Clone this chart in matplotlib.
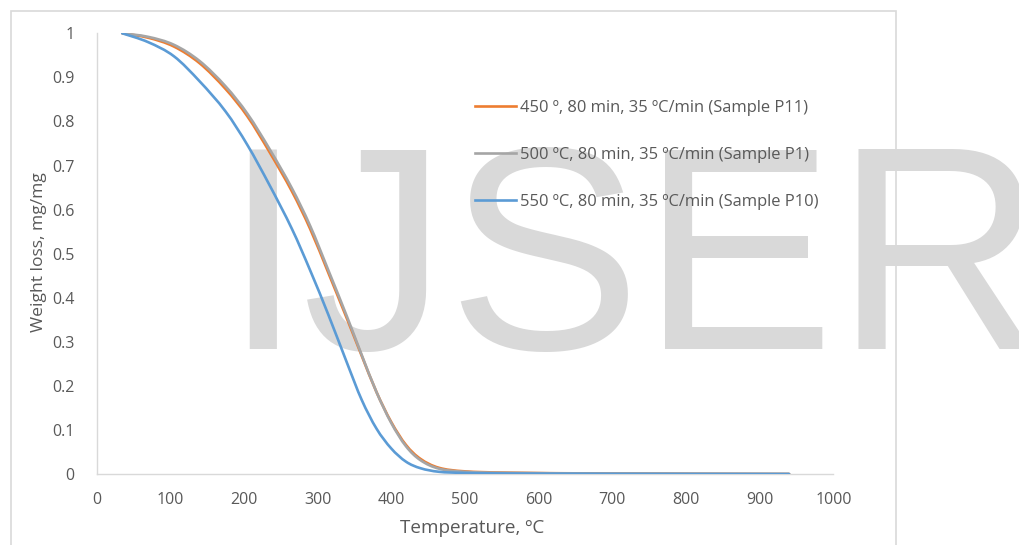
import matplotlib
matplotlib.use("Agg")
import matplotlib.pyplot as plt
from matplotlib.patches import Rectangle, PathPatch
from matplotlib.path import Path
from matplotlib.lines import Line2D

# ---- data ----
temp_blue = [35, 70, 105, 140, 175, 205, 235, 265, 290, 315, 340, 360, 380, 400,
             420, 440, 465, 500, 560, 700, 940]
w_blue = [1.0, 0.980, 0.948, 0.891, 0.823, 0.746, 0.655, 0.557, 0.462, 0.360,
          0.252, 0.168, 0.103, 0.058, 0.028, 0.013, 0.005, 0.0025, 0.0012, 0.0004, 0.0]

temp_og = [35, 70, 105, 140, 175, 205, 235, 265, 290, 315, 340, 360, 380, 400,
           420, 440, 465, 500, 560, 700, 940]
w_orange = [1.0, 0.990, 0.970, 0.932, 0.874, 0.811, 0.730, 0.642, 0.556, 0.455,
            0.352, 0.268, 0.186, 0.118, 0.066, 0.034, 0.014, 0.006, 0.003, 0.001, 0.0]
w_gray = [1.0, 0.992, 0.974, 0.937, 0.880, 0.817, 0.737, 0.649, 0.563, 0.461,
          0.357, 0.270, 0.186, 0.116, 0.063, 0.031, 0.012, 0.005, 0.0025, 0.001, 0.0]

labels = ["450 º, 80 min, 35 ºC/min (Sample P11)",
          "500 ºC, 80 min, 35 ºC/min (Sample P1)",
          "550 ºC, 80 min, 35 ºC/min (Sample P10)"]
colors = ["#ED7D31", "#A5A5A5", "#5B9BD5"]
xticks = [0, 100, 200, 300, 400, 500, 600, 700, 800, 900, 1000]
yticks = [0, 0.1, 0.2, 0.3, 0.4, 0.5, 0.6, 0.7, 0.8, 0.9, 1]
ytick_labels = ["0", "0.1", "0.2", "0.3", "0.4", "0.5", "0.6", "0.7", "0.8", "0.9", "1"]

FONT = "Open Sans"
TXT = "#595959"


def smooth_path(xs, ys):
    """Excel-style smoothed line: Catmull-Rom segments as cubic Beziers."""
    n = len(xs)
    verts = [(xs[0], ys[0])]
    codes = [Path.MOVETO]
    for i in range(n - 1):
        x0, y0 = (xs[i - 1], ys[i - 1]) if i > 0 else (xs[i], ys[i])
        x1, y1 = xs[i], ys[i]
        x2, y2 = xs[i + 1], ys[i + 1]
        x3, y3 = (xs[i + 2], ys[i + 2]) if i + 2 < n else (x2, y2)
        c1 = (x1 + (x2 - x0) / 6.0, y1 + (y2 - y0) / 6.0)
        c2 = (x2 - (x3 - x1) / 6.0, y2 - (y3 - y1) / 6.0)
        verts += [c1, c2, (x2, y2)]
        codes += [Path.CURVE4] * 3
    return Path(verts, codes)


W, H = 1019, 545
fig = plt.figure(figsize=(W / 100, H / 100), dpi=100)
fig.patch.set_facecolor("white")

# chart border
fig.patches.append(Rectangle((10.5 / W, -0.05), (896 - 10.5) / W, 1.05 - 10.5 / H,
                             transform=fig.transFigure, fill=False,
                             edgecolor="#D9D9D9", lw=1.2, zorder=0))

# watermark
fig.text(222 / W, 1 - 349 / H, "IJSER", fontsize=209, color="#D9D9D9",
         family="Liberation Sans", ha="left", va="baseline", zorder=0.5)

ax = fig.add_axes([96.5 / W, 1 - 474 / H, (833.3 - 96.5) / W, (474 - 33.3) / H])
ax.set_facecolor("none")
ax.set_zorder(2)

series = [(temp_og, w_orange), (temp_og, w_gray), (temp_blue, w_blue)]
for k, (xs, ys) in enumerate(series):
    ax.add_patch(PathPatch(smooth_path(xs, ys), fill=False, edgecolor=colors[k],
                           lw=1.9, capstyle="round", joinstyle="round", zorder=3 + k))

ax.set_xlim(0, 1000)
ax.set_ylim(0, 1)
ax.set_xticks(xticks)
ax.set_xticklabels([str(t) for t in xticks])
ax.set_yticks(yticks)
ax.set_yticklabels(ytick_labels)
ax.tick_params(length=0, labelsize=11.5, labelcolor=TXT)
ax.tick_params(axis="x", pad=13)
ax.tick_params(axis="y", pad=16)
for lab in ax.get_xticklabels() + ax.get_yticklabels():
    lab.set_fontfamily(FONT)
for s in ["top", "right"]:
    ax.spines[s].set_visible(False)
for s in ["left", "bottom"]:
    ax.spines[s].set_color("#D9D9D9")
    ax.spines[s].set_linewidth(1.0)

fig.text(39 / W, 1 - 252.5 / H, "Weight loss, mg/mg", rotation=90, ha="center",
         va="center", fontsize=12.6, color=TXT, family=FONT)
fig.text(472 / W, 1 - 528 / H, "Temperature, ºC", ha="center", va="center",
         fontsize=13.6, color=TXT, family=FONT)

handles = [Line2D([], [], color=c, lw=1.9) for c in colors]
ax.legend(handles, labels, loc="upper left", bbox_to_anchor=(460 / W, 1 - 85 / H),
          bbox_transform=fig.transFigure, frameon=False,
          prop={"family": FONT, "size": 11.9}, labelcolor=TXT,
          handlelength=2.5, handletextpad=0.2, labelspacing=1.88)

fig.savefig("out.png", dpi=100, facecolor="white")
